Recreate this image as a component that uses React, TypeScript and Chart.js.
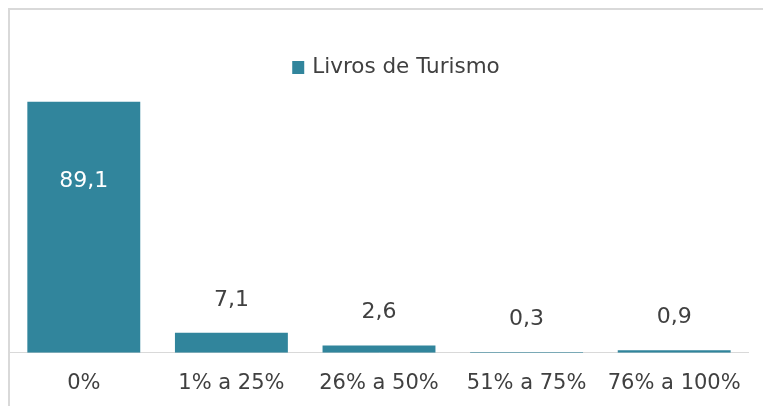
import React, { useEffect, useRef } from "react";
import { Chart, registerables } from "chart.js";

Chart.register(...registerables);

const categories = ["0%", "1% a 25%", "26% a 50%", "51% a 75%", "76% a 100%"];
const seriesName = "Livros de Turismo";
const values = [89.1, 7.1, 2.6, 0.3, 0.9];
const valueLabels = ["89,1", "7,1", "2,6", "0,3", "0,9"];

const BAR = "#31859C";
const TEXT = "#404040";
const FONT = "'DejaVu Sans', sans-serif";

export default function App() {
  const ref = useRef<HTMLCanvasElement | null>(null);
  useEffect(() => {
    if (!ref.current) return;
    const labelPlugin = {
      id: "vlabels",
      afterDatasetsDraw(chart: any) {
        const ctx = chart.ctx;
        const meta = chart.getDatasetMeta(0);
        ctx.save();
        ctx.font = `22px ${FONT}`;
        ctx.textAlign = "center";
        ctx.textBaseline = "middle";
        meta.data.forEach((el: any, i: number) => {
          const inside = el.base - el.y > 100;
          if (inside) {
            ctx.fillStyle = "#ffffff";
            ctx.fillText(valueLabels[i], el.x, el.y + 80);
          } else {
            ctx.fillStyle = TEXT;
            ctx.fillText(valueLabels[i], el.x, el.y - 33);
          }
        });
        // legend
        const cx = (chart.chartArea.left + chart.chartArea.right) / 2 + 17;
        ctx.font = `21.5px ${FONT}`;
        const w = ctx.measureText(seriesName).width;
        const total = 12 + 8 + w;
        const x0 = cx - total / 2;
        const y = 67 - 10;
        ctx.fillStyle = BAR;
        ctx.fillRect(x0, y - 6, 12, 13);
        ctx.fillStyle = TEXT;
        ctx.textAlign = "left";
        ctx.fillText(seriesName, x0 + 20, y);
        ctx.restore();
      },
    };
    const chart = new Chart(ref.current, {
      type: "bar",
      data: {
        labels: categories,
        datasets: [
          {
            label: seriesName,
            data: values,
            backgroundColor: BAR,
            borderWidth: 0,
            categoryPercentage: 1,
            barPercentage: 0.765,
          },
        ],
      },
      options: {
        animation: false,
        responsive: false,
        maintainAspectRatio: false,
        layout: { padding: { top: 61, left: 0, right: 23, bottom: 0 } },
        plugins: { legend: { display: false }, tooltip: { enabled: false } },
        scales: {
          y: { display: false, min: 0, max: 100 },
          x: {
            grid: { display: false },
            border: { display: true, color: "#d9d9d9", width: 1 },
            ticks: { color: TEXT, font: { family: FONT, size: 21 }, padding: 10, maxRotation: 0 },
          },
        },
      },
      plugins: [labelPlugin],
    });
    return () => chart.destroy();
  }, []);
  return (
    <div
      style={{
        width: 763,
        height: 398,
        boxSizing: "border-box",
        borderTop: "2px solid #d9d9d9",
        borderLeft: "2px solid #d9d9d9",
        background: "#fff",
        overflow: "hidden",
      }}
    >
      <canvas ref={ref} width={761} height={396} style={{ display: "block" }} />
    </div>
  );
}
